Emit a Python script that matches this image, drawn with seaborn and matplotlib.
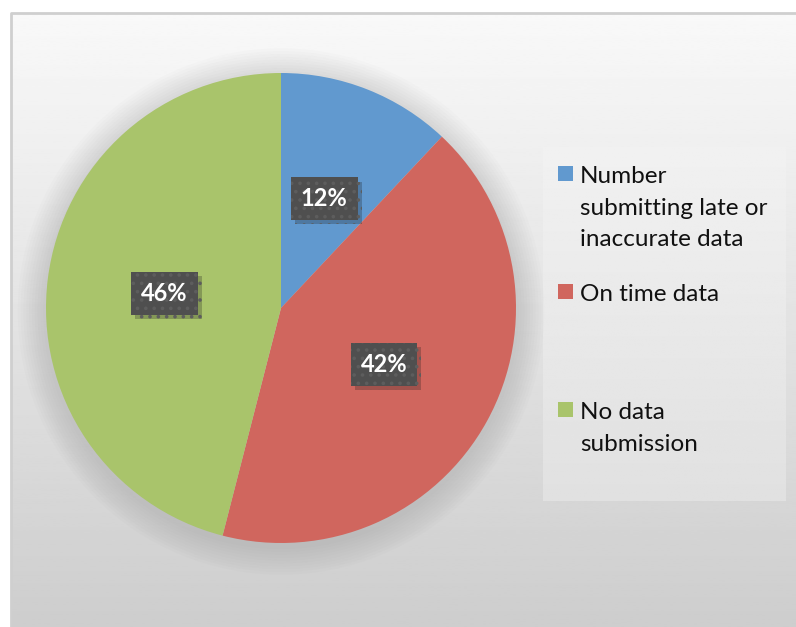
import numpy as np
import matplotlib
matplotlib.use("Agg")
import matplotlib.pyplot as plt
import matplotlib.patheffects as pe
from matplotlib.patches import Rectangle, Circle
import seaborn as sns

# data
categories = ["Number\nsubmitting late or\ninaccurate data", "On time data", "No data\nsubmission"]
shares = [12, 42, 46]
colors = ["#6199CF", "#D0665E", "#A9C46B"]

W, H = 796, 627


def fx(px):
    return px / W


def fy(py):
    # pixel row (from top) -> figure fraction
    return 1 - py / H


sns.set_theme(style="white")
plt.rcParams["font.family"] = ["Lato", "DejaVu Sans"]
plt.rcParams["hatch.linewidth"] = 1.4

fig = plt.figure(figsize=(W / 100, H / 100), dpi=100)
fig.patch.set_facecolor("white")

# chart area background: vertical gray gradient
bg = fig.add_axes([fx(11), 0, fx(W - 11), fy(13)])
grad = np.linspace(0.975, 0.805, 256).reshape(-1, 1)
bg.imshow(grad, cmap="gray", vmin=0, vmax=1, aspect="auto", extent=[0, 1, 0, 1])
bg.set_xlim(0, 1)
bg.set_ylim(0, 1)
bg.axis("off")
bg.plot([0, 0, 1], [0, 1, 1], color="#cfcfcf", lw=2, transform=bg.transAxes, clip_on=False)

# legend panel
leg_bg = fig.add_axes([fx(543), fy(501), fx(786 - 543), fy(147) - fy(501)])
leg_grad = np.linspace(0.945, 0.88, 256).reshape(-1, 1)
leg_bg.imshow(leg_grad, cmap="gray", vmin=0, vmax=1, aspect="auto", extent=[0, 1, 0, 1])
leg_bg.axis("off")

# pie
ax = fig.add_axes([fx(46 - 0.15 * 235), fy(543 + 0.15 * 235),
                   fx(470 * 1.15), fy(73 - 0.15 * 235) - fy(543 + 0.15 * 235)])
ax.set_facecolor("none")
for i in range(10):
    ax.add_patch(Circle((0, -0.015), 1 + 0.012 * (i + 1), color="#777777", alpha=0.025, lw=0, zorder=0))

wedges, texts, autotexts = ax.pie(
    shares,
    colors=colors,
    startangle=90,
    counterclock=False,
    autopct=lambda p: f"{p:.0f}%",
    pctdistance=0.5,
    wedgeprops=dict(linewidth=0),
    textprops=dict(color="white", fontsize=17, fontweight="bold"),
)
ax.set_xlim(-1.15, 1.15)
ax.set_ylim(-1.15, 1.15)
ax.axis("off")

for t in autotexts:
    t.set_bbox(dict(boxstyle="square,pad=0.42", facecolor="#4f4f4f", edgecolor="#5d5d5d",
                    linewidth=0, hatch=".."))
    t.get_bbox_patch().set_path_effects([pe.SimplePatchShadow(offset=(3, -3), alpha=0.25), pe.Normal()])

# legend entries
legend_tops = [166, 284, 402]
for label, color, top in zip(categories, colors, legend_tops):
    fig.patches.append(Rectangle((fx(558), fy(top + 15)), fx(15), fy(top) - fy(top + 15),
                                 transform=fig.transFigure, facecolor=color, edgecolor="none"))
    fig.text(fx(580), fy(top), label, ha="left", va="top", fontsize=17.5,
             color="#111111", linespacing=1.62)

fig.savefig("out.png", dpi=100)
